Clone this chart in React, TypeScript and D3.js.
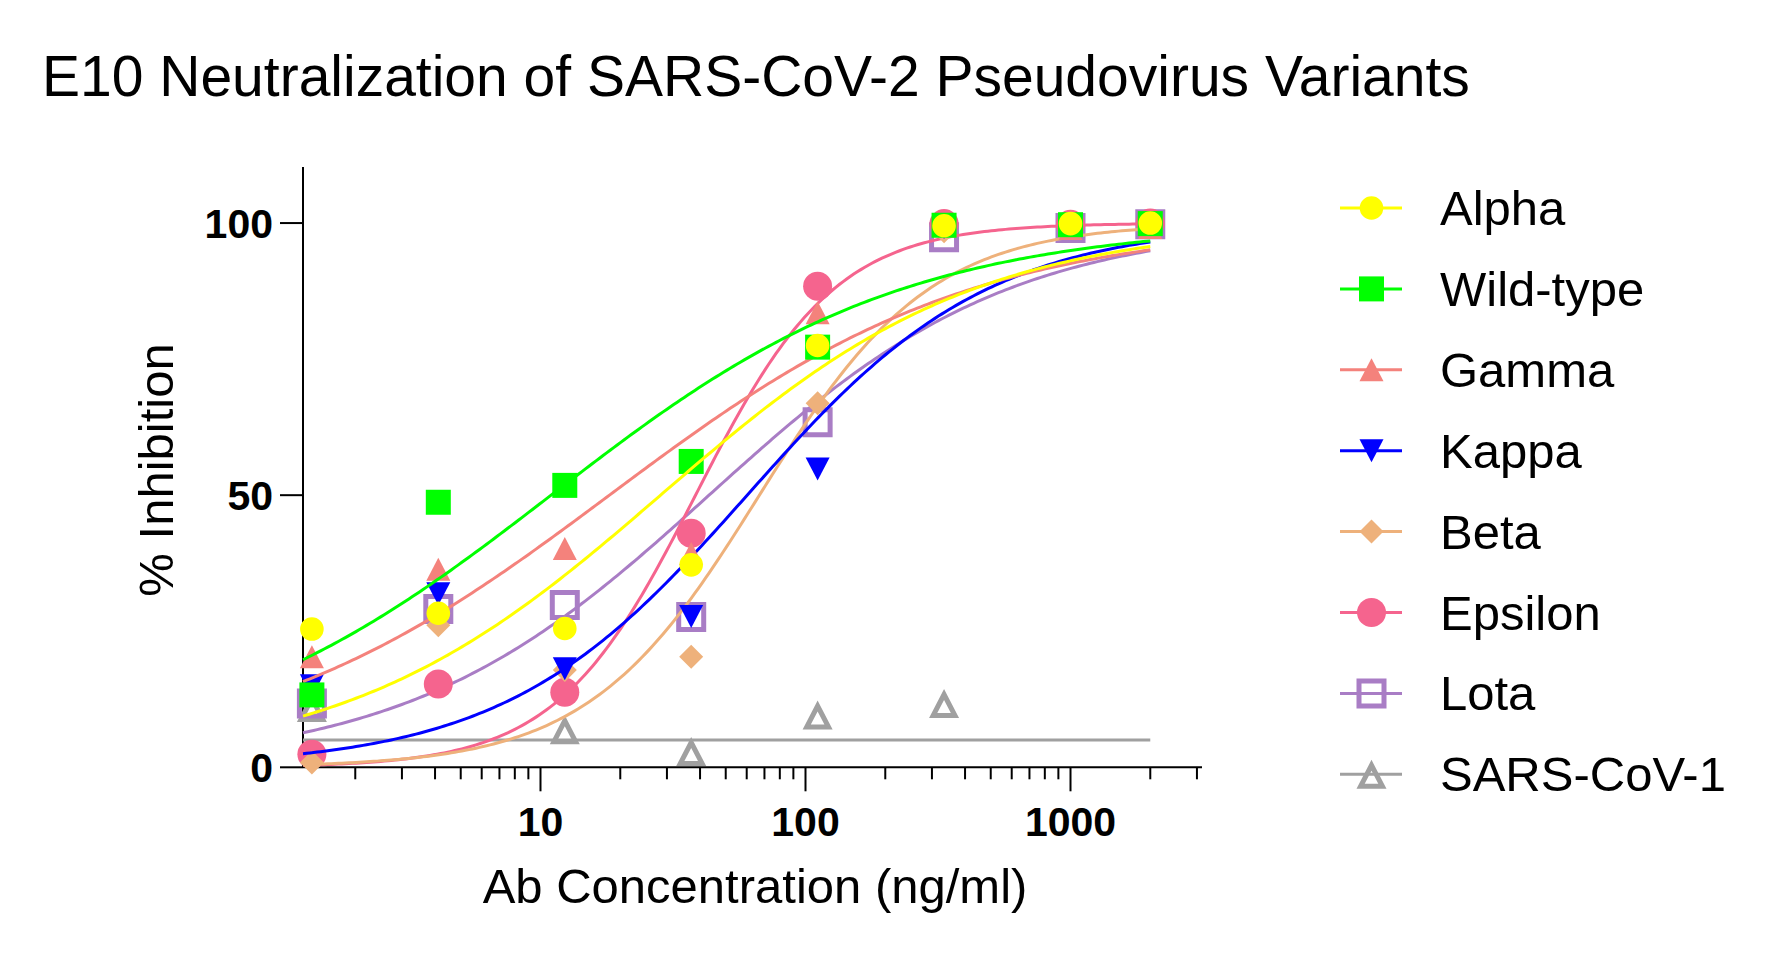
import React from "react";
import * as d3 from "d3";

// ---------- data ----------
const concentrations = [1.372, 4.115, 12.35, 37.04, 111.1, 333.3, 1000, 2000];

const seriesNames = ["Alpha", "Wild-type", "Gamma", "Kappa", "Beta", "Epsilon", "Lota", "SARS-CoV-1"];
const seriesColors = ["#FFFF00", "#00FF00", "#F4827C", "#0000FF", "#EEB17B", "#F5648E", "#A97DC5", "#A0A0A0"];
const seriesSymbols = ["circle", "square", "triangleUp", "triangleDown", "diamond", "bigCircle", "openSquare", "openTriangle"];

const alphaValues = [25.4, 28.3, 25.5, 37.2, 77.5, 99.5, 99.9, 100];
const wildTypeValues = [13.3, 48.7, 51.8, 56.2, 77.2, 99.6, 99.7, 99.9];
const gammaValues = [20.3, 36.4, 40.2, 39.3, 83.5, 99.5, 99.0, 99.2];
const kappaValues = [15.0, 31.9, 18.1, 27.7, 54.8, 99.2, 99.5, 99.8];
const betaValues = [0.9, 26.1, 17.9, 20.3, 66.9, 98.5, 99.2, 99.7];
const epsilonValues = [2.4, 15.3, 13.8, 43.0, 88.4, 99.9, 99.8, 100];
const lotaValues = [11.7, 29.1, 29.8, 27.6, 63.4, 97.4, 99.1, 99.8];
const sarsCoV1Values: (number | null)[] = [11.0, null, 6.9, 2.9, 9.6, 11.7, null, null];

// four-parameter logistic fit parameters per series
const fitBottom = [0, 0, 0, 0, 0, 0, 0, 5];
const fitTop = [100, 100, 100, 100, 100, 100, 100, 5];
const fitLogEC50 = [1.453, 1.04, 1.26, 1.78, 1.826, 1.585, 1.636, 1];
const fitHill = [0.729, 0.65, 0.63, 0.95, 1.345, 1.65, 0.763, 1];

const yTicks = [0, 50, 100];
const xMajorTicks = [10, 100, 1000];
const xTickLabels = ["10", "100", "1000"];

const allValues = [alphaValues, wildTypeValues, gammaValues, kappaValues, betaValues, epsilonValues, lotaValues, sarsCoV1Values];

// ---------- helpers ----------
const FONT = "'Liberation Sans', Arial, Helvetica, sans-serif";

function symbolPath(kind: string, cx: number, cy: number): string {
  switch (kind) {
    case "circle": {
      const r = 11.8;
      return `M${cx - r},${cy}a${r},${r} 0 1,0 ${2 * r},0a${r},${r} 0 1,0 ${-2 * r},0Z`;
    }
    case "bigCircle": {
      const r = 14.5;
      return `M${cx - r},${cy}a${r},${r} 0 1,0 ${2 * r},0a${r},${r} 0 1,0 ${-2 * r},0Z`;
    }
    case "square": {
      const h = 12.5;
      return `M${cx - h},${cy - h}H${cx + h}V${cy + h}H${cx - h}Z`;
    }
    case "triangleUp": {
      const w = 12, h = 11.5;
      return `M${cx},${cy - h}L${cx + w},${cy + h}L${cx - w},${cy + h}Z`;
    }
    case "triangleDown": {
      const w = 12, h = 11.5;
      return `M${cx - w},${cy - h}L${cx + w},${cy - h}L${cx},${cy + h}Z`;
    }
    case "diamond": {
      const h = 12;
      return `M${cx},${cy - h}L${cx + h},${cy}L${cx},${cy + h}L${cx - h},${cy}Z`;
    }
    case "openSquare": {
      const o = 15, i = 10;
      return `M${cx - o},${cy - o}H${cx + o}V${cy + o}H${cx - o}Z` +
        `M${cx - i},${cy - i}V${cy + i}H${cx + i}V${cy - i}Z`;
    }
    case "openTriangle": {
      const A = [0, -14.5], B = [15, 14.5], C = [-15, 14.5];
      const a = Math.hypot(B[0] - C[0], B[1] - C[1]);
      const b = Math.hypot(A[0] - C[0], A[1] - C[1]);
      const c = Math.hypot(A[0] - B[0], A[1] - B[1]);
      const p = a + b + c;
      const ix = (a * A[0] + b * B[0] + c * C[0]) / p;
      const iy = (a * A[1] + b * B[1] + c * C[1]) / p;
      const area = Math.abs((B[0] - A[0]) * (C[1] - A[1]) - (C[0] - A[0]) * (B[1] - A[1])) / 2;
      const r = area / (p / 2);
      const k = (r - 5) / r;
      const inner = [A, C, B].map(([x, y]) => [ix + k * (x - ix), iy + k * (y - iy)]);
      return `M${cx + A[0]},${cy + A[1]}L${cx + B[0]},${cy + B[1]}L${cx + C[0]},${cy + C[1]}Z` +
        `M${cx + inner[0][0]},${cy + inner[0][1]}L${cx + inner[1][0]},${cy + inner[1][1]}L${cx + inner[2][0]},${cy + inner[2][1]}Z`;
    }
  }
  return "";
}

export default function App() {
  const width = 1773, height = 957;
  const left = 303, right = 1202, top = 167, bottom = 767.3;

  const x = d3.scaleLog().domain([Math.pow(10, 0.1038), Math.pow(10, 3.4962)]).range([left, right]);
  const y = d3.scaleLinear().domain([0, 110.3]).range([bottom, top]);

  const [xMin] = x.domain();
  const xCurveMax = concentrations[concentrations.length - 1];

  const logistic = (i: number, lx: number) =>
    fitBottom[i] + (fitTop[i] - fitBottom[i]) / (1 + Math.pow(10, (fitLogEC50[i] - lx) * fitHill[i]));

  const line = d3.line<[number, number]>().x((d) => d[0]).y((d) => d[1]);

  const curveFor = (i: number) => {
    const l0 = Math.log10(xMin), l1 = Math.log10(xCurveMax);
    const pts: [number, number][] = [];
    const n = 240;
    for (let k = 0; k <= n; k++) {
      const lx = l0 + ((l1 - l0) * k) / n;
      pts.push([x(Math.pow(10, lx)), y(logistic(i, lx))]);
    }
    return line(pts) || "";
  };

  const minorTicks: number[] = [];
  for (let dec = 1; dec <= 1000; dec *= 10) {
    for (let m = 2; m <= 9; m++) {
      const v = m * dec;
      if (v >= x.domain()[0] && v <= x.domain()[1]) minorTicks.push(v);
    }
  }

  const drawOrder = seriesNames.map((_, i) => i).reverse();

  const legendX0 = 1340, legendX1 = 1402, legendMarkX = 1371.5, legendTextX = 1440;
  const legendY0 = 208, legendStep = 80.9;

  return (
    <svg width={width} height={height} style={{ position: "absolute", left: 0, top: 0, background: "#fff" }}
      fontFamily={FONT}>
      <rect x={0} y={0} width={width} height={height} fill="#fff" />
      <text x={42} y={96} fontSize={57} fill="#000">E10 Neutralization of SARS-CoV-2 Pseudovirus Variants</text>

      {/* axes */}
      <line x1={left} y1={bottom} x2={left} y2={top} stroke="#000" strokeWidth={2} />
      <line x1={left} y1={bottom} x2={right} y2={bottom} stroke="#000" strokeWidth={2} />
      {yTicks.map((t) => (
        <g key={"yt" + t}>
          <line x1={left - 23} x2={left} y1={y(t)} y2={y(t)} stroke="#000" strokeWidth={2} />
          <text x={273} y={y(t) + 15} fontSize={41} fontWeight="bold" textAnchor="end">{t}</text>
        </g>
      ))}
      {minorTicks.map((t) => (
        <line key={"mt" + t} x1={x(t)} x2={x(t)} y1={bottom} y2={bottom + 12} stroke="#000" strokeWidth={2} />
      ))}
      {xMajorTicks.map((t, i) => (
        <g key={"xt" + t}>
          <line x1={x(t)} x2={x(t)} y1={bottom} y2={bottom + 24} stroke="#000" strokeWidth={2} />
          <text x={x(t)} y={836} fontSize={41} fontWeight="bold" textAnchor="middle">{xTickLabels[i]}</text>
        </g>
      ))}
      <text x={755} y={903} fontSize={49} textAnchor="middle">Ab Concentration (ng/ml)</text>
      <text transform="translate(173,470) rotate(-90)" fontSize={49} textAnchor="middle">% Inhibition</text>

      {/* series */}
      {drawOrder.map((i) => (
        <g key={"s" + i}>
          <path d={curveFor(i)} fill="none" stroke={seriesColors[i]} strokeWidth={3} />
          {allValues[i].map((v, j) =>
            v === null ? null : (
              <path key={j} d={symbolPath(seriesSymbols[i], x(concentrations[j]), y(v))}
                fill={seriesColors[i]} fillRule="evenodd" stroke="none" />
            )
          )}
        </g>
      ))}

      {/* legend */}
      {seriesNames.map((name, i) => {
        const ly = legendY0 + legendStep * i;
        return (
          <g key={"lg" + i}>
            <line x1={legendX0} x2={legendX1} y1={ly} y2={ly} stroke={seriesColors[i]} strokeWidth={3} />
            <path d={symbolPath(seriesSymbols[i], legendMarkX, ly)} fill={seriesColors[i]} fillRule="evenodd" />
            <text x={legendTextX} y={ly + 17} fontSize={49} fill="#000">{name}</text>
          </g>
        );
      })}
    </svg>
  );
}
